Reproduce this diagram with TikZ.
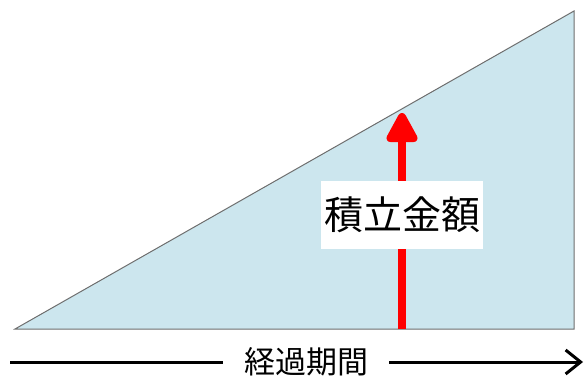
\documentclass[tikz,border=0pt]{standalone}
\usepackage{fontspec}
\newfontfamily\cjk{Noto Sans CJK JP}
\usetikzlibrary{arrows.meta}
\definecolor{areablue}{RGB}{204,230,238}
\definecolor{edgegray}{RGB}{110,110,110}
\tikzset{
  area/.style={fill=areablue, draw=edgegray, line width=1pt},
  risearrow/.style={draw=red, line width=8pt, -{Triangle[length=34pt,width=34pt,round]}, red},
  amountlabel/.style={fill=white, minimum width=162pt, minimum height=68pt, inner sep=0pt, font=\cjk\fontsize{39}{39}\selectfont},
  timelabel/.style={fill=white, inner ysep=0pt, inner xsep=21pt, font=\cjk\fontsize{31}{31}\selectfont},
  timeline/.style={line width=3pt, black},
}
\begin{document}
\begin{tikzpicture}[x=1pt,y=-1pt]
\useasboundingbox (0,0) rectangle (585,377);
\coordinate (bl) at (15,329);
\coordinate (tr) at (574,11);
\coordinate (br) at (574,329);
\draw[area] (bl) -- (tr) -- (br) -- cycle;
\coordinate (abase) at (402,329);
\coordinate (atip) at (402,113);
\draw[risearrow] (abase) -- (atip);
\node[amountlabel] (amount) at (402,215) {積立金額};
\coordinate (tstart) at (10,362);
\coordinate (tend) at (583,362);
\node[timelabel] (time) at (306,362) {経過期間};
\draw[timeline] (tstart) -- (time.west);
\draw[timeline, -{Straight Barb[length=15pt,width=24pt]}] (time.east) -- (tend);
\end{tikzpicture}
\end{document}
